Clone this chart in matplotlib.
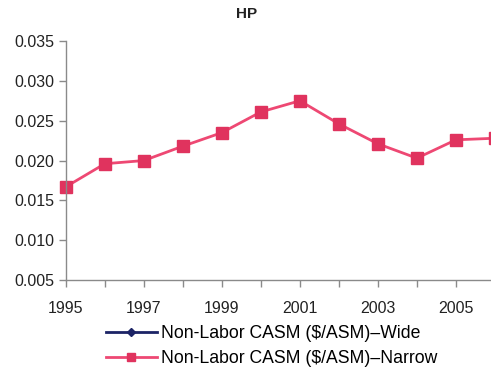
import matplotlib
matplotlib.use('agg')

import numpy as np
import matplotlib.pyplot as plt

plt.rcParams['font.family'] = ['Liberation Sans', 'DejaVu Sans']

years = [1995, 1996, 1997, 1998, 1999, 2000, 2001, 2002, 2003, 2004, 2005, 2006]
narrow = [0.0167, 0.0196, 0.0200, 0.0218, 0.0235, 0.0261, 0.0275, 0.0246, 0.0221, 0.0203, 0.0226, 0.0228]
wide = [np.nan] * len(years)   # no wide-body data for this carrier

year_labels = ['1995', '1997', '1999', '2001', '2003', '2005']
y_ticks = [0.005, 0.010, 0.015, 0.020, 0.025, 0.030, 0.035]

fig = plt.figure(figsize=(4.91, 3.76), dpi=100)
ax = fig.add_axes([0.134, 0.255, 0.874, 0.636])

ax.plot(years, wide, color='#1c2466', lw=2, marker='D', ms=6,
        label='Non-Labor CASM ($/ASM)\u2013Wide', clip_on=False)
ax.plot(years, narrow, color='#ee4873', lw=2, marker='s', ms=8.5,
        mfc='#e0335e', mec='#e0335e',
        label='Non-Labor CASM ($/ASM)\u2013Narrow', clip_on=False)

ax.set_xlim(1995, 2006)
ax.set_ylim(0.005, 0.035)
ax.set_yticks(y_ticks)
ax.set_yticklabels(['%.3f' % v for v in y_ticks])
ax.set_xticks(years)
ax.set_xticklabels([str(y) if str(y) in year_labels else '' for y in years])

for s in ['top', 'right']:
    ax.spines[s].set_visible(False)
for s in ['left', 'bottom']:
    ax.spines[s].set_color('#8a8a8a')
    ax.spines[s].set_linewidth(1)
ax.tick_params(axis='both', colors='#8a8a8a', labelcolor='#222222',
               labelsize=11.5, length=5, width=1, direction='out')
ax.tick_params(axis='x', pad=10)

fig.text(0.503, 0.963, 'HP', ha='center', va='center', fontsize=11,
         fontweight='bold', color='#222222')

fig.legend(loc='upper left', bbox_to_anchor=(0.215, 0.135), frameon=False,
           fontsize=12.7, handlelength=2.9, handletextpad=0.25,
           labelspacing=0.45, borderaxespad=0, borderpad=0, markerscale=0.75)

fig.savefig('out.png', dpi=100)
